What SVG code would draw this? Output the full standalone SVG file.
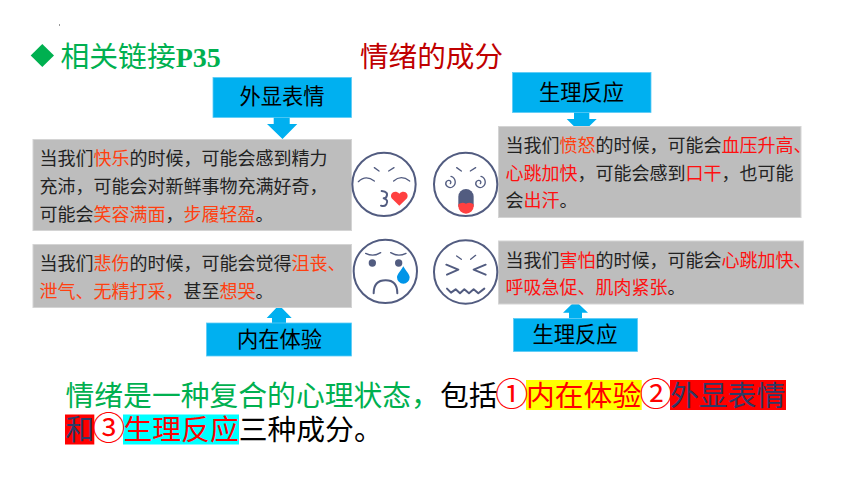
<svg xmlns="http://www.w3.org/2000/svg" width="860" height="484" viewBox="0 0 860 484">
<style>
text{font-family:"Noto Sans CJK SC","Noto Sans",sans-serif}
.box{fill:#BDBDBD;stroke:#D4D4D4;stroke-width:1}
.tag{fill:#00B0F0;stroke:#5CCBF5;stroke-width:.8}
.arrow{fill:#00B0F0}
.lbl{font-size:21.3px;fill:#000;text-anchor:middle}
.body{font-size:18px;fill:#222}
.o{fill:#FF4010}
.r{fill:#FF1010}
.big{font-size:28.8px}
.num{font-size:33px;fill:#FF0000}
.ln{fill:none;stroke:#525C80;stroke-width:6;stroke-linecap:round;stroke-linejoin:round}
.th{fill:none;stroke:#525C80;stroke-width:4;stroke-linecap:round}
</style>
<rect width="860" height="484" fill="#fff"/>
<rect x="59" y="24" width="1" height="2" fill="#999"/>

<g id="heading">
<polygon points="42.3,44 54,55.5 42.3,67 30.7,55.5" fill="#00B050"/>
<text x="60.5" y="67" font-size="28.8" fill="#00B050">相关链接<tspan font-family="Liberation Serif" font-weight="700" font-size="28">P35</tspan></text>
</g>
<g id="title"><text x="360" y="67" font-size="28.6" fill="#C00000">情绪的成分</text></g>

<g id="connectors">
<polygon class="arrow" points="273.7,117 289.7,117 289.7,124 297.3,124 282.5,139 267,124 273.7,124"/>
<polygon class="arrow" points="574,112 589.3,112 589.3,119 596.7,119 581.5,133.7 566.7,119 574,119"/>
<polygon class="arrow" points="279,305 291.7,318 286,318 286,323.5 272,323.5 272,318 266.7,318"/>
<polygon class="arrow" points="575.3,300.7 588,312.7 582,312.7 582,318.5 569,318.5 569,312.7 563,312.7"/>
</g>

<g id="box-joy">
<rect class="box" x="33" y="139.5" width="318.5" height="91"/>
<text class="body" x="39.5" y="165">当我们<tspan class="o">快乐</tspan>的时候，可能会感到精力</text>
<text class="body" x="39.5" y="193">充沛，可能会对新鲜事物充满好奇，</text>
<text class="body" x="39.5" y="221">可能会<tspan class="o">笑容满面</tspan>，<tspan class="o">步履轻盈</tspan>。</text>
</g>
<g id="box-anger">
<rect class="box" x="498.5" y="126.5" width="302.5" height="91"/>
<text class="body" x="505.5" y="152">当我们<tspan class="o">愤怒</tspan>的时候，可能会<tspan class="r">血压升高、</tspan></text>
<text class="body" x="505.5" y="180"><tspan class="r">心跳加快</tspan>，可能会感到<tspan class="r">口干</tspan>，也可能</text>
<text class="body" x="505.5" y="207">会<tspan class="r">出汗</tspan>。</text>
</g>
<g id="box-sad">
<rect class="box" x="33" y="244.5" width="318.5" height="63"/>
<text class="body" x="39.5" y="270">当我们<tspan class="o">悲伤</tspan>的时候，可能会觉得<tspan class="o">沮丧、</tspan></text>
<text class="body" x="39.5" y="298"><tspan class="o">泄气、无精打采，</tspan>甚至<tspan class="o">想哭</tspan>。</text>
</g>
<g id="box-fear">
<rect class="box" x="498.5" y="241" width="305" height="63"/>
<text class="body" x="505.5" y="267">当我们<tspan class="r">害怕</tspan>的时候，可能会<tspan class="r">心跳加快、</tspan></text>
<text class="body" x="505.5" y="294"><tspan class="r">呼吸急促、肌肉紧张</tspan>。</text>
</g>

<g id="tag-expression">
<rect class="tag" x="213" y="77.5" width="138.5" height="40"/>
<text class="lbl" x="282" y="104">外显表情</text>
</g>
<g id="tag-physio-top">
<rect class="tag" x="512.5" y="72.5" width="138.5" height="40"/>
<text class="lbl" x="581.5" y="100">生理反应</text>
</g>
<g id="tag-experience">
<rect class="tag" x="206.5" y="323" width="145" height="33"/>
<text class="lbl" x="279.5" y="346.5">内在体验</text>
</g>
<g id="tag-physio-bottom">
<rect class="tag" x="513.5" y="318.5" width="124" height="33"/>
<text class="lbl" x="575" y="341.5">生理反应</text>
</g>

<g id="face-kiss" transform="translate(345 145) scale(.3333)">
<circle class="ln" cx="117" cy="118" r="95"/>
<path class="th" d="M88 68L102 78M147 68L131 78M40 110Q62 88 88 108M146 108Q168 88 194 108"/>
<path class="ln" d="M110 138Q132 140 124 156Q122 160 116 160Q132 165 124 178Q118 186 108 182"/>
<path d="M163 182L140 160C132 145 150 132 163 146C176 132 194 145 186 160Z" fill="#FF4040"/>
</g>
<g id="face-dizzy" transform="translate(345 145) scale(.3333)">
<circle class="ln" cx="362" cy="118" r="95"/>
<path class="th" d="M335 68L349 78M392 68L376 78"/>
<path class="th" d="M316 116C322 108 310 102 304 110C298 120 310 132 322 126C336 118 332 98 318 94"/>
<path class="th" d="M406 116C412 108 400 102 394 110C388 120 400 132 412 126C426 118 422 98 408 94"/>
<path d="M340 185V155a23 23 0 0 1 46 0V185Z" fill="#525C80"/>
<path d="M340 178Q351 170 363 176Q375 170 386 178V184a23 22 0 0 1-46 0Z" fill="#FF4040"/>
</g>
<g id="face-cry" transform="translate(345 232) scale(.3333)">
<circle class="ln" cx="121" cy="118" r="95"/>
<path class="th" d="M62 64Q85 76 107 62M137 62Q160 76 183 64"/>
<circle cx="82" cy="93" r="11" fill="#525C80"/>
<circle cx="161" cy="93" r="11" fill="#525C80"/>
<path d="M175 103C165 120 156 128 156 136A19 19 0 0 0 194 136C194 128 185 120 175 103Z" fill="#0095E8"/>
<path class="ln" d="M86 184Q86 145 122 145Q157 145 157 184"/>
</g>
<g id="face-fear" transform="translate(345 232) scale(.3333)">
<circle class="ln" cx="362" cy="120" r="95"/>
<path class="th" d="M335 72L349 82M392 70L377 82"/>
<path class="ln" d="M304 98L340 113L306 128M422 98L386 113L422 128M306 170L318 182L332 172L345 184L358 172L372 184L386 172L400 184L418 170"/>
</g>

<g id="summary">
<rect x="526" y="380" width="115.7" height="30" fill="#FFFF00"/>
<rect x="670" y="380" width="116" height="30" fill="#FF0000"/>
<rect x="65" y="414.5" width="29.3" height="30" fill="#FF0000"/>
<rect x="123" y="414.5" width="116" height="30" fill="#00FFFF"/>
<text class="big" x="65.5" y="405.5" fill="#00B050">情绪是一种复合的心理状态，<tspan fill="#000">包括</tspan><tspan class="num" x="495.2" y="405.5">①</tspan><tspan fill="#FF0000" x="526" y="405.5">内在体验</tspan><tspan class="num" x="639.5" y="405.5">②</tspan><tspan fill="#2F3A66" x="670" y="405.5">外显表情</tspan></text>
<text class="big" x="65.5" y="440"><tspan fill="#2F3A66">和</tspan><tspan class="num" x="92.2" y="440.2">③</tspan><tspan fill="#FF0000" x="123.5" y="440">生理反应</tspan><tspan fill="#000">三种成分。</tspan></text>
</g>
</svg>
